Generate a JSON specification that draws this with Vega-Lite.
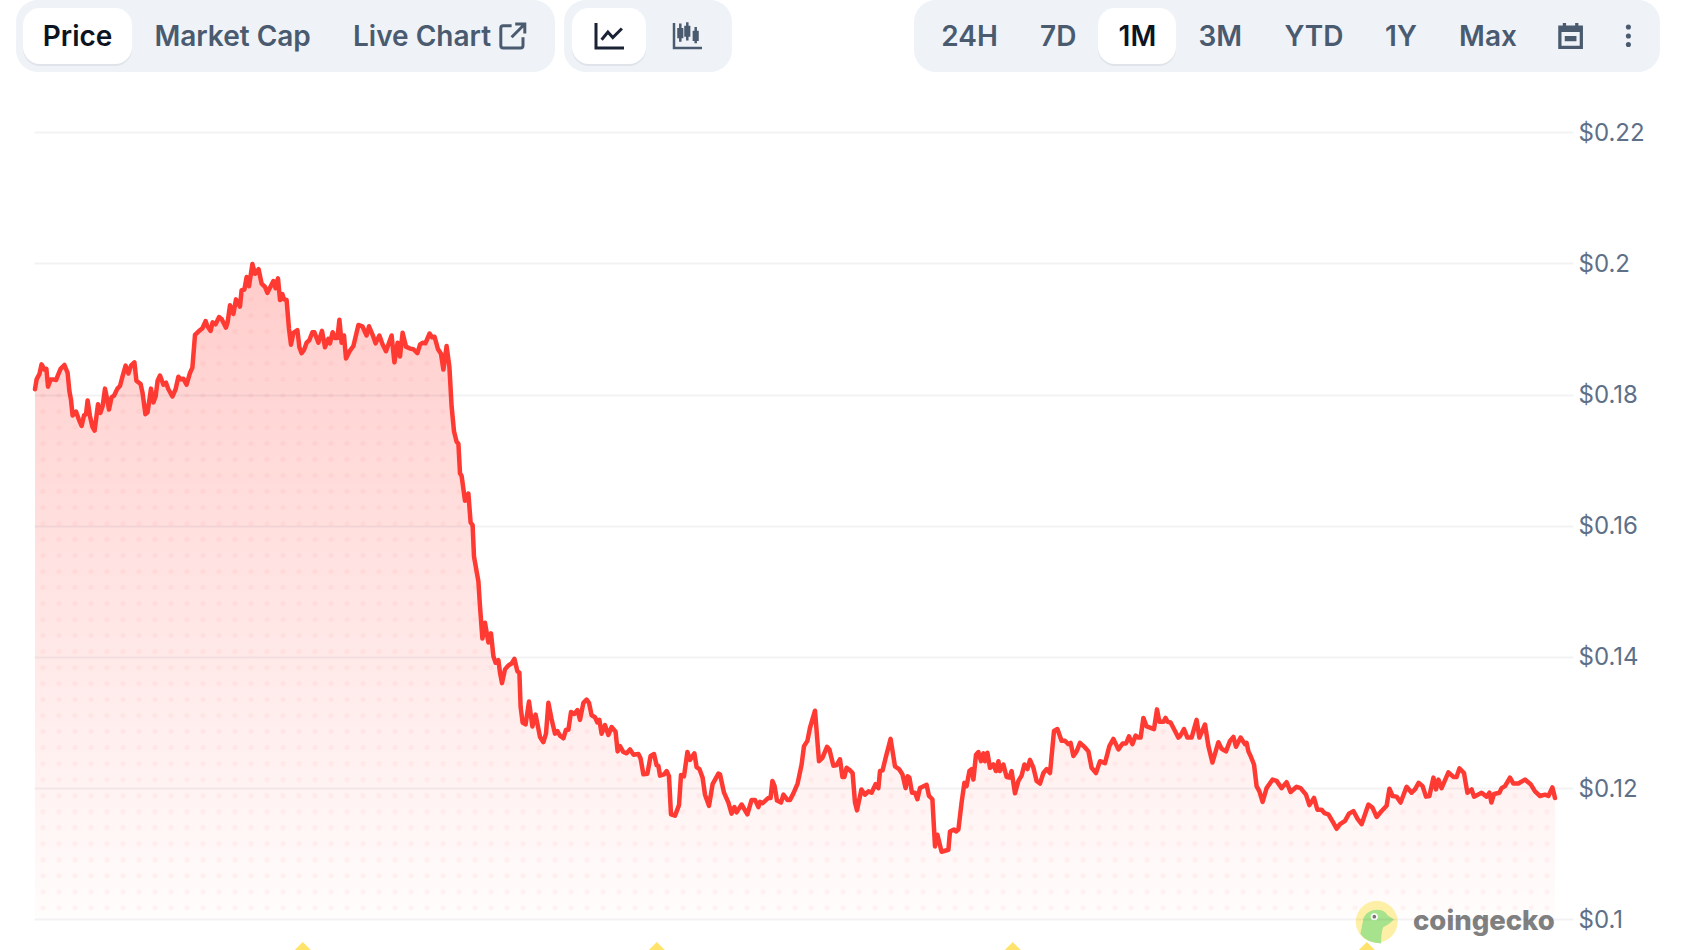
{"$schema":"https://vega.github.io/schema/vega-lite/v6.json","width":1539,"height":950,"autosize":{"type":"none"},"padding":{"left":34,"top":0,"right":109,"bottom":0},"background":"#ffffff","config":{"view":{"stroke":null}},
"data":{"name":"price","values":[
{"t":0,"p":0.1808},{"t":0.8,"p":0.1823},{"t":2.2,"p":0.1831},{"t":3.3,"p":0.1846},{"t":4.7,"p":0.1838},{"t":5.7,"p":0.1839},{"t":6.5,"p":0.1812},{"t":7.8,"p":0.1823},{"t":9.2,"p":0.1823},{"t":10.5,"p":0.1822},{"t":11.7,"p":0.1831},{"t":12.8,"p":0.1839},{"t":14.7,"p":0.1845},{"t":16.3,"p":0.1833},{"t":17.2,"p":0.1805},{"t":18,"p":0.1792},{"t":18.8,"p":0.1768},{"t":20.5,"p":0.1774},{"t":21.8,"p":0.1763},{"t":23.3,"p":0.1752},{"t":24.5,"p":0.1768},{"t":25.5,"p":0.177},{"t":26.3,"p":0.1791},{"t":27.5,"p":0.1767},{"t":28.7,"p":0.1751},{"t":29.8,"p":0.1745},{"t":31.5,"p":0.1785},{"t":32.7,"p":0.1772},{"t":33.8,"p":0.1782},{"t":35,"p":0.1809},{"t":35.8,"p":0.1797},{"t":37,"p":0.1777},{"t":38.3,"p":0.1796},{"t":39.5,"p":0.1798},{"t":41.2,"p":0.1809},{"t":42.5,"p":0.1813},{"t":43.7,"p":0.1827},{"t":45.3,"p":0.1844},{"t":46.7,"p":0.1832},{"t":48,"p":0.1844},{"t":49.7,"p":0.1849},{"t":50.7,"p":0.1821},{"t":52.8,"p":0.1816},{"t":53.8,"p":0.1802},{"t":55.2,"p":0.177},{"t":56.3,"p":0.1773},{"t":58,"p":0.1809},{"t":59.2,"p":0.1788},{"t":60.3,"p":0.1797},{"t":61.3,"p":0.1821},{"t":62.5,"p":0.1829},{"t":64.2,"p":0.1815},{"t":65.5,"p":0.1818},{"t":66.7,"p":0.1808},{"t":68.7,"p":0.1797},{"t":70.3,"p":0.1808},{"t":71.7,"p":0.1827},{"t":73,"p":0.1823},{"t":74.2,"p":0.1824},{"t":75.8,"p":0.1815},{"t":77.5,"p":0.1833},{"t":78.7,"p":0.1841},{"t":80,"p":0.1891},{"t":81.7,"p":0.1896},{"t":83.7,"p":0.1901},{"t":85.3,"p":0.1912},{"t":86.2,"p":0.1904},{"t":87.8,"p":0.1897},{"t":88.8,"p":0.191},{"t":90.3,"p":0.1907},{"t":92,"p":0.1918},{"t":93.3,"p":0.1915},{"t":95.5,"p":0.1902},{"t":96.3,"p":0.191},{"t":97.5,"p":0.1936},{"t":99.2,"p":0.1923},{"t":100.5,"p":0.1945},{"t":102.5,"p":0.1934},{"t":103.3,"p":0.1959},{"t":104.7,"p":0.196},{"t":105.8,"p":0.1979},{"t":107,"p":0.1965},{"t":108.7,"p":0.1999},{"t":110,"p":0.1984},{"t":111.8,"p":0.1991},{"t":113.3,"p":0.1969},{"t":115,"p":0.1964},{"t":116.2,"p":0.1955},{"t":119.2,"p":0.1973},{"t":120.3,"p":0.1962},{"t":121.5,"p":0.1977},{"t":122.5,"p":0.1944},{"t":123.7,"p":0.1953},{"t":124.5,"p":0.1945},{"t":125.8,"p":0.1944},{"t":127,"p":0.19},{"t":128,"p":0.1876},{"t":129.2,"p":0.1894},{"t":131.2,"p":0.1898},{"t":132.2,"p":0.1872},{"t":133.3,"p":0.1863},{"t":134.5,"p":0.1868},{"t":135.8,"p":0.1879},{"t":137.2,"p":0.1883},{"t":138.7,"p":0.1895},{"t":139.7,"p":0.1895},{"t":141.7,"p":0.1879},{"t":143.5,"p":0.1897},{"t":145,"p":0.1872},{"t":146.7,"p":0.1885},{"t":147.5,"p":0.1878},{"t":148.8,"p":0.1895},{"t":150,"p":0.1886},{"t":151.2,"p":0.1886},{"t":152.2,"p":0.1914},{"t":153.3,"p":0.1879},{"t":154.5,"p":0.189},{"t":155.5,"p":0.1855},{"t":157.5,"p":0.1867},{"t":159.2,"p":0.1874},{"t":161.7,"p":0.1906},{"t":163.7,"p":0.1904},{"t":165.8,"p":0.189},{"t":167,"p":0.1904},{"t":168.8,"p":0.1891},{"t":170.3,"p":0.1878},{"t":172.2,"p":0.189},{"t":173.7,"p":0.1877},{"t":175.5,"p":0.1866},{"t":178.3,"p":0.189},{"t":179.7,"p":0.1849},{"t":181.3,"p":0.1879},{"t":182.5,"p":0.1858},{"t":183.8,"p":0.1894},{"t":185.5,"p":0.1873},{"t":187.5,"p":0.187},{"t":189.2,"p":0.1869},{"t":191.2,"p":0.1863},{"t":192.5,"p":0.1876},{"t":193.8,"p":0.1879},{"t":195.2,"p":0.1878},{"t":197.3,"p":0.1893},{"t":198.5,"p":0.1887},{"t":199.8,"p":0.1888},{"t":201.5,"p":0.1869},{"t":203,"p":0.1862},{"t":204.2,"p":0.1838},{"t":205.8,"p":0.1874},
{"t":207.2,"p":0.1842},{"t":208.3,"p":0.1782},{"t":209.5,"p":0.1744},{"t":210.8,"p":0.1728},{"t":211.7,"p":0.1725},{"t":212.5,"p":0.168},{"t":213.3,"p":0.1676},{"t":215,"p":0.1638},{"t":216.7,"p":0.1649},{"t":217.8,"p":0.1605},{"t":218.8,"p":0.1601},{"t":219.5,"p":0.1553},{"t":221.7,"p":0.1515},{"t":222.5,"p":0.1477},{"t":223.7,"p":0.1428},{"t":225,"p":0.1452},{"t":226.7,"p":0.1422},{"t":228,"p":0.1436},{"t":229.2,"p":0.1401},{"t":230.3,"p":0.1391},{"t":231.7,"p":0.1395},{"t":232.5,"p":0.1376},{"t":233.5,"p":0.136},{"t":235,"p":0.1381},{"t":236.7,"p":0.1387},{"t":238.3,"p":0.139},{"t":239.7,"p":0.1397},{"t":241.2,"p":0.1378},{"t":242.2,"p":0.1376},{"t":242.8,"p":0.1324},{"t":243.8,"p":0.13},{"t":245.3,"p":0.1297},{"t":247,"p":0.1332},{"t":248.7,"p":0.1294},{"t":250.3,"p":0.1312},{"t":252.5,"p":0.1278},{"t":254.2,"p":0.127},{"t":255.5,"p":0.1283},{"t":256.7,"p":0.133},{"t":258.3,"p":0.1305},{"t":260,"p":0.1283},{"t":261.2,"p":0.1287},{"t":262.5,"p":0.128},{"t":264.2,"p":0.1276},{"t":265.5,"p":0.1289},{"t":266.7,"p":0.1289},{"t":268,"p":0.1316},{"t":269.7,"p":0.1313},{"t":271.2,"p":0.1319},{"t":272.5,"p":0.1304},{"t":274.2,"p":0.133},{"t":275.8,"p":0.1335},{"t":277,"p":0.133},{"t":278.3,"p":0.1311},{"t":280,"p":0.1308},{"t":281.2,"p":0.13},{"t":282.2,"p":0.1304},{"t":283.3,"p":0.1283},{"t":285,"p":0.1296},{"t":286.7,"p":0.1281},{"t":288.3,"p":0.1293},{"t":290.3,"p":0.1286},{"t":291.3,"p":0.1256},{"t":292.5,"p":0.1264},{"t":294.2,"p":0.1255},{"t":295.8,"p":0.1253},{"t":297.5,"p":0.1259},{"t":299.2,"p":0.1251},{"t":301.7,"p":0.1252},{"t":302.8,"p":0.1245},{"t":304.2,"p":0.1221},{"t":306.2,"p":0.1222},{"t":307.8,"p":0.1249},{"t":309.5,"p":0.1252},{"t":310.8,"p":0.1235},{"t":311.7,"p":0.1234},{"t":312.5,"p":0.1219},{"t":314.5,"p":0.1221},{"t":315.8,"p":0.1226},{"t":317,"p":0.1218},{"t":318,"p":0.116},{"t":320,"p":0.1158},{"t":322,"p":0.1174},{"t":323,"p":0.122},{"t":324.5,"p":0.1218},{"t":326.2,"p":0.1255},{"t":327.5,"p":0.1243},{"t":329.7,"p":0.1253},{"t":330.8,"p":0.1232},{"t":332.2,"p":0.1229},
{"t":333.8,"p":0.1216},{"t":335,"p":0.119},{"t":337,"p":0.1173},{"t":338.8,"p":0.1206},{"t":341.7,"p":0.1222},{"t":342.5,"p":0.1221},{"t":344.5,"p":0.1193},{"t":346.7,"p":0.1178},{"t":348.3,"p":0.1161},{"t":349.7,"p":0.1171},{"t":350.8,"p":0.1163},{"t":353.3,"p":0.1175},{"t":356.2,"p":0.116},{"t":358.3,"p":0.1182},{"t":360,"p":0.1182},{"t":361.7,"p":0.1171},{"t":362.5,"p":0.1179},{"t":363.8,"p":0.1177},{"t":366.7,"p":0.1185},{"t":367.8,"p":0.1185},{"t":368.7,"p":0.1211},{"t":369.8,"p":0.1203},{"t":371,"p":0.1181},{"t":373,"p":0.1178},{"t":374.2,"p":0.119},{"t":376.2,"p":0.1182},{"t":377.5,"p":0.1182},{"t":379.2,"p":0.1192},{"t":381.3,"p":0.1207},{"t":383.3,"p":0.1236},{"t":384.5,"p":0.1264},{"t":386.2,"p":0.1272},{"t":387.5,"p":0.1292},{"t":390,"p":0.1318},{"t":392,"p":0.1241},{"t":393.7,"p":0.1246},{"t":396,"p":0.1263},{"t":397.2,"p":0.1259},{"t":399.2,"p":0.1234},{"t":400.8,"p":0.1235},{"t":402.5,"p":0.1244},{"t":403.7,"p":0.1217},{"t":404.7,"p":0.1217},{"t":405.8,"p":0.1231},{"t":407.5,"p":0.1227},{"t":408.8,"p":0.1223},{"t":410,"p":0.1178},{"t":411,"p":0.1166},{"t":413.2,"p":0.1198},{"t":415,"p":0.119},{"t":416.7,"p":0.1195},{"t":418.3,"p":0.1193},{"t":420.3,"p":0.1206},{"t":421.7,"p":0.12},{"t":422.5,"p":0.1226},{"t":423.8,"p":0.1227},{"t":425.3,"p":0.1246},{"t":427.8,"p":0.1275},{"t":430,"p":0.1233},{"t":432,"p":0.1229},{"t":433.7,"p":0.1221},{"t":435.3,"p":0.12},{"t":436.3,"p":0.1218},{"t":437.2,"p":0.1216},{"t":438.5,"p":0.1193},{"t":440,"p":0.1193},{"t":441.2,"p":0.1183},{"t":442.5,"p":0.12},{"t":445.8,"p":0.1205},{"t":447,"p":0.1188},{"t":448.7,"p":0.1183},{"t":450,"p":0.1111},{"t":451.2,"p":0.1129},{"t":453.3,"p":0.1103},{"t":456.7,"p":0.1106},{"t":457.5,"p":0.1134},{"t":459.5,"p":0.1137},{"t":460.5,"p":0.1134},{"t":461.7,"p":0.1137},{"t":463.3,"p":0.1178},{"t":464.7,"p":0.1208},{"t":465.8,"p":0.1203},{"t":467.2,"p":0.1226},{"t":468.3,"p":0.1229},{"t":469.2,"p":0.1213},{"t":470.5,"p":0.1251},{"t":471.7,"p":0.1255},{"t":473,"p":0.1241},{"t":474.2,"p":0.1253},{"t":475,"p":0.1241},{"t":476.2,"p":0.1254},{"t":477.5,"p":0.1231},{"t":479.2,"p":0.1236},{"t":480.5,"p":0.1226},{"t":481.7,"p":0.1241},{"t":482.5,"p":0.1226},{"t":484.2,"p":0.1236},{"t":485.8,"p":0.1217},{"t":487.2,"p":0.1216},{"t":488.3,"p":0.1226},{"t":490,"p":0.1192},{"t":491.7,"p":0.1211},{"t":493.3,"p":0.1219},{"t":494.7,"p":0.1236},{"t":496.2,"p":0.1229},{"t":497.5,"p":0.1243},{"t":499.2,"p":0.1231},{"t":500.8,"p":0.1211},{"t":502.5,"p":0.1207},{"t":504.2,"p":0.1223},{"t":505.8,"p":0.1229},{"t":507.5,"p":0.1223},{"t":509.5,"p":0.1287},{"t":511.2,"p":0.129},{"t":513.3,"p":0.1272},{"t":515,"p":0.1272},{"t":516.7,"p":0.1267},{"t":517.8,"p":0.1269},{"t":519.2,"p":0.1249},{"t":520.8,"p":0.1256},{"t":522.5,"p":0.1269},{"t":525,"p":0.1262},{"t":526.7,"p":0.1256},{"t":528.3,"p":0.1231},{"t":530.5,"p":0.1223},{"t":532.5,"p":0.1241},{"t":535,"p":0.1238},{"t":537.2,"p":0.1264},{"t":539.2,"p":0.1275},{"t":541.7,"p":0.1259},{"t":543.8,"p":0.1268},{"t":545.5,"p":0.1268},{"t":547,"p":0.1279},{"t":548.7,"p":0.1267},{"t":550.3,"p":0.128},{"t":551.7,"p":0.1277},{"t":552.8,"p":0.1277},{"t":554.2,"p":0.1307},{"t":555.8,"p":0.1294},{"t":559.5,"p":0.129},{"t":561,"p":0.132},{"t":562.2,"p":0.1301},{"t":564.2,"p":0.1301},{"t":565.3,"p":0.1307},{"t":566.3,"p":0.1301},{"t":567.8,"p":0.13},{"t":570,"p":0.1287},{"t":571.7,"p":0.1277},
{"t":572.5,"p":0.1279},{"t":574.5,"p":0.129},{"t":576.2,"p":0.1277},{"t":578.3,"p":0.1277},{"t":580.8,"p":0.1304},{"t":582.2,"p":0.1277},{"t":585,"p":0.1297},{"t":586.7,"p":0.1264},{"t":588.7,"p":0.1239},{"t":591.7,"p":0.127},{"t":593.3,"p":0.126},{"t":595.5,"p":0.1256},{"t":597.5,"p":0.1272},{"t":599.2,"p":0.1278},{"t":600.5,"p":0.1263},{"t":602.8,"p":0.1277},{"t":605,"p":0.1267},{"t":605.8,"p":0.1269},{"t":606.7,"p":0.1256},{"t":607.8,"p":0.1249},{"t":609.5,"p":0.1236},{"t":610.8,"p":0.1203},{"t":612.2,"p":0.1195},{"t":613.8,"p":0.1179},{"t":615.8,"p":0.12},{"t":618.8,"p":0.1213},{"t":620.8,"p":0.1211},{"t":623.3,"p":0.12},{"t":625.8,"p":0.1209},{"t":627.8,"p":0.1194},{"t":630.8,"p":0.1202},{"t":632.8,"p":0.12},{"t":635.5,"p":0.119},{"t":637.2,"p":0.1174},{"t":639.5,"p":0.1185},{"t":641.2,"p":0.1167},{"t":643.3,"p":0.1167},{"t":644.7,"p":0.1162},{"t":646.7,"p":0.116},{"t":649.2,"p":0.1147},{"t":650.8,"p":0.1138},{"t":652.5,"p":0.1145},{"t":655,"p":0.115},{"t":657,"p":0.1161},{"t":659.2,"p":0.1165},{"t":661.3,"p":0.1153},{"t":663.3,"p":0.1145},{"t":666.7,"p":0.1175},{"t":668.8,"p":0.117},{"t":670.8,"p":0.1156},{"t":673.3,"p":0.1165},{"t":675.8,"p":0.1173},{"t":677.2,"p":0.1199},{"t":678.8,"p":0.1188},{"t":680.8,"p":0.1187},{"t":682.8,"p":0.1178},{"t":685.8,"p":0.1202},{"t":688.3,"p":0.1193},{"t":690,"p":0.1198},{"t":691.8,"p":0.1208},{"t":693.8,"p":0.1203},{"t":695.5,"p":0.1187},{"t":697.2,"p":0.1188},{"t":699.2,"p":0.1216},{"t":700.5,"p":0.1198},{"t":701.7,"p":0.1213},{"t":703.3,"p":0.12},{"t":706.7,"p":0.1224},{"t":709.2,"p":0.1217},{"t":710.8,"p":0.1217},{"t":712.2,"p":0.123},{"t":714.5,"p":0.1223},{"t":716.2,"p":0.1193},{"t":718.3,"p":0.1198},{"t":719.5,"p":0.1187},{"t":723.3,"p":0.1193},{"t":725.8,"p":0.1187},{"t":727.2,"p":0.1193},{"t":728.2,"p":0.1178},{"t":729.5,"p":0.1191},{"t":732.2,"p":0.1193},{"t":733.3,"p":0.12},{"t":735,"p":0.1203},{"t":737.5,"p":0.1216},{"t":739.2,"p":0.1207},{"t":741.7,"p":0.1207},{"t":745,"p":0.1213},{"t":747.8,"p":0.1206},{"t":750,"p":0.1195},{"t":752.5,"p":0.1188},{"t":755,"p":0.119},{"t":756.7,"p":0.1188},{"t":758.7,"p":0.1201},{"t":760,"p":0.1185}
]},
"encoding":{"x":{"field":"t","type":"quantitative","scale":{"domain":[-0.5,769],"nice":false,"zero":false},"axis":null},"y":{"field":"p","type":"quantitative","scale":{"domain":[0.09532,0.24014],"nice":false,"zero":false},"axis":{"orient":"right","title":null,"values":[0.1,0.12,0.14,0.16,0.18,0.2,0.22],"format":"$.2~f","grid":true,"gridColor":"#1a1a50","gridOpacity":0.06,"gridWidth":2,"domain":false,"ticks":false,"labelFont":"Inter","labelFontSize":24,"labelColor":"#5e6f88","labelPadding":5,"labelOffset":1,"zindex":1}}},
"layer":[
{"data":{"values":[{"t":[4,12,20,28,36,44,52,60,68,76,84,92,100,108,116,124,132,140,148,156,164,172,180,188,196,204,212,220,228,236,244,252,260,268,276,284,292,300,308,316,324,332,340,348,356,364,372,380,388,396,404,412,420,428,436,444,452,460,468,476,484,492,500,508,516,524,532,540,548,556,564,572,580,588,596,604,612,620,628,636,644,652,660,668,676,684,692,700,708,716,724,732,740,748,756],"p":[0.10177,0.10421,0.10665,0.10909,0.11153,0.11397,0.11641,0.11885,0.12129,0.12373,0.12617,0.12861,0.13105,0.13349,0.13593,0.13837,0.14081,0.14325,0.14569,0.14813,0.15057,0.15301,0.15545,0.15789,0.16033,0.16277,0.16521,0.16765,0.17009,0.17253,0.17497,0.17741,0.17985,0.18229,0.18473,0.18717,0.18961,0.19205,0.19449]}]},"transform":[{"flatten":["t"]},{"flatten":["p"]}],"mark":{"type":"point","filled":true,"shape":"circle","size":26,"color":"#ff3a33","opacity":0.05}},
{"mark":{"type":"area","orient":"vertical","color":"#ffffff"},"encoding":{"y2":{"datum":0.24014}}},
{"mark":{"type":"area","orient":"vertical","color":{"gradient":"linear","x1":0,"y1":0,"x2":0,"y2":1,"stops":[{"offset":0,"color":"rgba(255,58,51,0.26)"},{"offset":1,"color":"rgba(255,58,51,0.01)"}]}},"encoding":{"y2":{"datum":0.1}}},
{"mark":{"type":"line","color":"#ff3a33","strokeWidth":4.5,"strokeJoin":"round","strokeCap":"round"}},
{"data":{"values":[{"t":-9.5,"t2":260,"p":0.24014,"p2":0.22916},{"t":264.5,"t2":348.5,"p":0.24014,"p2":0.22916},{"t":439.5,"t2":812.5,"p":0.24014,"p2":0.22916}]},"mark":{"type":"rect","color":"#eff3f8","cornerRadius":22},"encoding":{"x2":{"field":"t2"},"y2":{"field":"p2"}}},
{"data":{"values":[{"t":-6,"t2":48.5,"p":0.23861,"p2":0.23008},{"t":268.5,"t2":305.5,"p":0.23861,"p2":0.23008},{"t":531.5,"t2":570.5,"p":0.23861,"p2":0.23008}]},"mark":{"type":"rect","color":"#1e293b","opacity":0.07,"cornerRadius":17},"encoding":{"x2":{"field":"t2"},"y2":{"field":"p2"}}},
{"data":{"values":[{"t":-6,"t2":48.5,"p":0.23892,"p2":0.23038},{"t":268.5,"t2":305.5,"p":0.23892,"p2":0.23038},{"t":531.5,"t2":570.5,"p":0.23892,"p2":0.23038}]},"mark":{"type":"rect","color":"#ffffff","cornerRadius":17},"encoding":{"x2":{"field":"t2"},"y2":{"field":"p2"}}},
{"data":{"values":[{"label":"Price","t":21.3,"p":0.23432},{"label":"1M","t":551.2,"p":0.23432}]},"mark":{"type":"text","font":"Inter","fontSize":28,"fontWeight":600,"color":"#0d1421","align":"center","baseline":"middle"},"encoding":{"text":{"field":"label"}}},
{"data":{"values":[{"label":"Market Cap","t":98.8,"p":0.23432},{"label":"Live Chart","t":193.5,"p":0.23432},{"label":"24H","t":467.3,"p":0.23432},{"label":"7D","t":511.6,"p":0.23432},{"label":"3M","t":592.6,"p":0.23432},{"label":"YTD","t":639.5,"p":0.23432},{"label":"1Y","t":683,"p":0.23432},{"label":"Max","t":726.5,"p":0.23432}]},"mark":{"type":"text","font":"Inter","fontSize":28,"fontWeight":600,"color":"#4a5b70","align":"center","baseline":"middle"},"encoding":{"text":{"field":"label"}}},
{"data":{"values":[{"t":287.5,"p":0.23473}]},"mark":{"type":"point","shape":"M-1,-0.9 L-1,0.9 L1,0.9 M-0.6,0.3 L-0.15,-0.25 L0.2,0.15 L0.85,-0.5","size":784,"filled":false,"color":"#1a2233","strokeWidth":3,"opacity":1}},
{"data":{"values":[{"t":326.5,"p":0.23473}]},"mark":{"type":"point","shape":"M-1,-0.9 L-1,0.9 L1,0.9 M-0.55,-0.85 L-0.55,0.45 M-0.05,-0.95 L-0.05,0.35 M0.55,-0.6 L0.55,0.55 M-0.68,-0.45 L-0.42,-0.45 L-0.42,0.1 L-0.68,0.1 Z M-0.18,-0.6 L0.08,-0.6 L0.08,0 L-0.18,0 Z M0.42,-0.25 L0.68,-0.25 L0.68,0.3 L0.42,0.3 Z","size":784,"filled":false,"color":"#4a5b70","strokeWidth":2.5,"opacity":1}},
{"data":{"values":[{"t":238.9,"p":0.23465}]},"mark":{"type":"point","shape":"M-0.1,-0.85 L-0.8,-0.85 Q-1,-0.85 -1,-0.65 L-1,0.8 Q-1,1 -0.8,1 L0.65,1 Q0.85,1 0.85,0.8 L0.85,0.1 M0.2,-1 L1,-1 L1,-0.2 M1,-1 L-0.1,0.1","size":576,"filled":false,"color":"#4a5b70","strokeWidth":3,"opacity":1}},
{"data":{"values":[{"t":767.8,"p":0.23465}]},"mark":{"type":"point","shape":"M-0.95,-0.8 L-0.6,-0.8 L-0.6,-1 L-0.35,-1 L-0.35,-0.8 L0.35,-0.8 L0.35,-1 L0.6,-1 L0.6,-0.8 L0.95,-0.8 L0.95,1 L-0.95,1 Z M-0.7,-0.3 L-0.7,0.75 L0.7,0.75 L0.7,-0.3 Z M-0.45,0 L0.45,0 L0.45,0.4 L-0.45,0.4 Z","size":676,"filled":true,"color":"#4a5b70","opacity":1}},
{"data":{"values":[{"t":796.7,"p":0.23602},{"t":796.7,"p":0.23465},{"t":796.7,"p":0.23336}]},"mark":{"type":"point","shape":"circle","size":26,"filled":true,"color":"#4a5b70","opacity":1}},
{"data":{"values":[{"t":133.9,"p":0.09532},{"t":310.9,"p":0.09532},{"t":488.9,"p":0.09532},{"t":665.9,"p":0.09532}]},"mark":{"type":"point","shape":"diamond","size":256,"filled":true,"color":"#ffe36b","opacity":1}},
{"data":{"values":[{"t":670.85,"p":0.09963}]},"mark":{"type":"point","shape":"circle","size":1750,"filled":true,"color":"#fdf0a6","opacity":1}},
{"data":{"values":[{"t":670.85,"p":0.09963}]},"mark":{"type":"point","shape":"M-0.75,0.55 L-0.6,-0.2 Q-0.4,-0.55 0,-0.55 Q0.35,-0.55 0.5,-0.3 L0.8,-0.1 Q0.55,0.15 0.3,0.25 Q0.2,0.5 0.2,1 Q-0.5,0.95 -0.75,0.55 Z","size":1884,"filled":true,"color":"#a6e38c","opacity":1}},
{"data":{"values":[{"t":669.65,"p":0.1004}]},"mark":{"type":"point","shape":"circle","size":50,"filled":true,"color":"#ffffff","opacity":1}},
{"data":{"values":[{"t":669.65,"p":0.1004}]},"mark":{"type":"point","shape":"circle","size":14,"filled":true,"color":"#777777","opacity":1}},
{"data":{"values":[{"label":"coingecko","t":689,"p":0.09963}]},"mark":{"type":"text","font":"Inter","fontSize":27.5,"fontWeight":800,"color":"#808080","align":"left","baseline":"middle"},"encoding":{"text":{"field":"label"}}}
]}
